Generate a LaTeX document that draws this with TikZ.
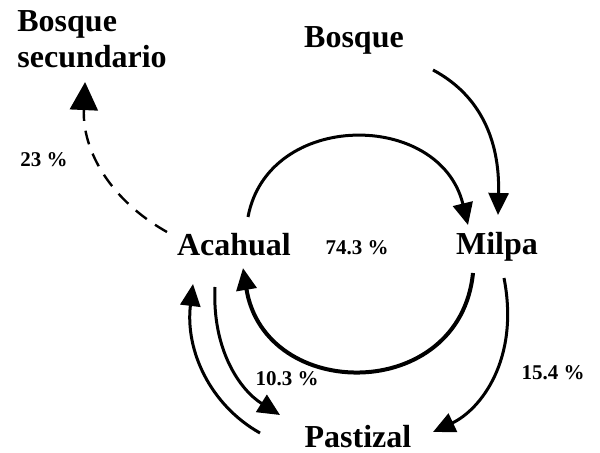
\documentclass[tikz,border=0pt]{standalone}
\usepackage{fontspec}
\setmainfont{Liberation Serif}
\usepackage{xcolor}
\usepackage{tikz}
\usetikzlibrary{arrows.meta}
\definecolor{ink}{RGB}{0,0,0}

\begin{document}
\begin{tikzpicture}[
  x=0.5pt, y=-0.5pt,
  every node/.style={color=ink},
  land/.style={font=\fontsize{16}{18}\selectfont\bfseries, inner sep=2pt},
  pct/.style={font=\fontsize{10.5}{12}\selectfont\bfseries, inner sep=1pt},
  arrow/.style={-{Triangle[length=11pt,width=10pt]}, line width=1.5pt, color=ink},
  thickarrow/.style={arrow, line width=2pt},
  dasharrow/.style={-{Triangle[length=14pt,width=14pt]}, line width=1.2pt,
                    dash pattern=on 7pt off 5pt, color=ink}
]
\useasboundingbox (0,0) rectangle (600,453);

%--- Land uses ---%
\node[land, align=left, anchor=west] (secundario) at (13,39) {Bosque\\secundario};
\node[land, anchor=base] (bosque)   at (354,48)  {Bosque};
\node[land, anchor=base] (acahual)  at (234,256) {Acahual};
\node[land, anchor=base] (milpa)    at (497,255) {Milpa};
\node[land, anchor=base] (pastizal) at (358,448) {Pastizal};

%--- Percentages ---%
\node[pct, anchor=base] (p23)  at (44,167)  {23 \%};
\node[pct, anchor=base] (p743) at (357,255) {74.3 \%};
\node[pct, anchor=base] (p103) at (287,386) {10.3 \%};
\node[pct, anchor=base] (p154) at (553,380) {15.4 \%};

%--- Main cycle ---%
\draw[arrow] ([shift={(79,22)}]bosque.base) .. controls +(47,25) and +(2,-75)
  .. ([shift={(1,-40)}]milpa.base);
\draw[arrow] ([shift={(14,-39)}]acahual.base) .. controls +(20,-107) and +(-28,-115)
  .. ([shift={(-29,-30)}]milpa.base);
\draw[thickarrow] ([shift={(-24,18)}]milpa.base) .. controls +(-13,130) and +(22,135)
  .. ([shift={(9,12)}]acahual.base);

%--- Towards pastizal ---%
\draw[arrow] ([shift={(7,23)}]milpa.base) .. controls +(16,82) and +(47,-22)
  .. ([shift={(75,-16)}]pastizal.base);
\draw[arrow] ([shift={(-19,31)}]acahual.base) .. controls +(-3,63) and +(-40,-25)
  .. ([shift={(-78,-33)}]pastizal.base);
\draw[arrow] ([shift={(-98,-15)}]pastizal.base) .. controls +(-50,-28) and +(-8,66)
  .. ([shift={(-41,28)}]acahual.base);

%--- Abandonment ---%
\draw[dasharrow] ([shift={(-67,-24)}]acahual.base) .. controls +(-57,-32) and +(-3,68)
  .. ([shift={(-7,10)}]secundario.south);

\end{tikzpicture}
\end{document}
